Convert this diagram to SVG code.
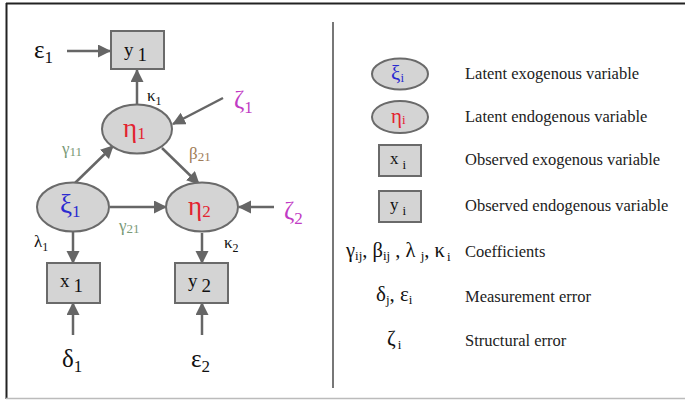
<svg xmlns="http://www.w3.org/2000/svg" width="685" height="400" viewBox="0 0 685 400">
<defs>
<marker id="ah" markerUnits="userSpaceOnUse" markerWidth="14" markerHeight="14" refX="12" refY="6.5" orient="auto">
<path d="M0,0 L13,6.5 L0,13 Z" fill="#666"/>
</marker>
<style>
.node-e{fill:#d4d4d4;stroke:#6a6a6a;stroke-width:2}
.node-r{fill:#d4d4d4;stroke:#6a6a6a;stroke-width:2}
.conn line{stroke:#666;stroke-width:2.5;marker-end:url(#ah)}
text{font-family:"Liberation Serif","Times New Roman",serif;fill:#111}
.big{font-size:25px}
.nb{font-size:27px}
.lab{font-size:17px}
.leg{font-size:16.5px;fill:#222}
.xi{fill:#2b2bd0}.eta{fill:#e32330}.zeta{fill:#c13bc4}.gam{fill:#7a9a78}.bet{fill:#a07c58}
</style>
</defs>
<rect x="0" y="0" width="685" height="400" fill="#fff"/>
<line x1="6" y1="3.5" x2="685" y2="3.5" stroke="#222" stroke-width="2"/>
<line x1="6.5" y1="3" x2="6.5" y2="399" stroke="#222" stroke-width="2"/>
<line x1="6" y1="398.5" x2="685" y2="398.5" stroke="#bbb" stroke-width="1.5"/>
<line x1="333" y1="22" x2="333" y2="388" stroke="#777" stroke-width="2"/>

<g id="connectors" class="conn">
<line x1="67" y1="51" x2="110" y2="51"/>
<line x1="137" y1="104" x2="137" y2="70"/>
<line x1="223" y1="98" x2="173" y2="124"/>
<line x1="75" y1="183" x2="113" y2="146"/>
<line x1="162" y1="148" x2="199" y2="184"/>
<line x1="110" y1="207" x2="166" y2="207"/>
<line x1="274" y1="207" x2="239" y2="207"/>
<line x1="73" y1="232" x2="73" y2="263"/>
<line x1="202" y1="233" x2="202" y2="263"/>
<line x1="73" y1="335" x2="73" y2="303"/>
<line x1="202" y1="335" x2="202" y2="303"/>
</g>

<g id="labels">
<text x="147" y="101" class="lab">κ<tspan font-size="12" dy="4">1</tspan></text>
<text x="62" y="154" class="lab gam">γ<tspan font-size="13" dy="2">11</tspan></text>
<text x="189" y="159" class="lab bet">β<tspan font-size="13" dy="2">21</tspan></text>
<text x="119" y="231" class="lab gam">γ<tspan font-size="13" dy="2">21</tspan></text>
<text x="34" y="247" class="lab">λ<tspan font-size="12" dy="4">1</tspan></text>
<text x="224" y="248" class="lab">κ<tspan font-size="12" dy="4">2</tspan></text>
</g>

<g id="eps1"><text x="34" y="58" class="big">ε<tspan font-size="17" dy="5">1</tspan></text></g>
<g id="zeta1"><text x="234" y="108" class="big zeta">ζ<tspan font-size="17" dy="5">1</tspan></text></g>
<g id="zeta2"><text x="284" y="219" class="big zeta">ζ<tspan font-size="17" dy="5">2</tspan></text></g>
<g id="delta1"><text x="62" y="367" class="big">δ<tspan font-size="17" dy="5">1</tspan></text></g>
<g id="eps2"><text x="191" y="367" class="big">ε<tspan font-size="17" dy="5">2</tspan></text></g>

<g id="y1"><rect x="111" y="31" width="53" height="38" class="node-r"/><text x="124" y="56" font-size="19">y<tspan dx="4" dy="5">1</tspan></text></g>
<g id="eta1"><ellipse cx="137" cy="129" rx="35" ry="24.5" class="node-e"/><text x="123" y="137" class="nb eta">η<tspan font-size="17" dy="2">1</tspan></text></g>
<g id="xi1"><ellipse cx="73" cy="207" rx="36" ry="24.5" class="node-e"/><text x="60" y="213" class="nb xi">ξ<tspan font-size="17" dy="4">1</tspan></text></g>
<g id="eta2"><ellipse cx="202" cy="207" rx="36" ry="24.5" class="node-e"/><text x="188" y="215" class="nb eta">η<tspan font-size="17" dy="2">2</tspan></text></g>
<g id="x1"><rect x="47" y="263" width="53" height="40" class="node-r"/><text x="60" y="287" font-size="19">x<tspan dx="4" dy="5">1</tspan></text></g>
<g id="y2"><rect x="175" y="263" width="53" height="40" class="node-r"/><text x="188" y="287" font-size="19">y<tspan dx="4" dy="5">2</tspan></text></g>

<g id="legend-xi"><ellipse cx="400" cy="74" rx="28" ry="15.5" class="node-e"/><text x="391" y="80" font-size="21" class="xi">ξ<tspan font-size="13" dy="2">i</tspan></text>
<text x="465" y="79" class="leg">Latent exogenous variable</text></g>
<g id="legend-eta"><ellipse cx="400" cy="117" rx="28" ry="16" class="node-e"/><text x="391" y="123" font-size="21" class="eta">η<tspan font-size="13" dy="1">i</tspan></text>
<text x="465" y="122" class="leg">Latent endogenous variable</text></g>
<g id="legend-x"><rect x="379" y="145" width="42" height="31" class="node-r"/><text x="390" y="164" font-size="17">x<tspan font-size="13" dx="4" dy="5">i</tspan></text>
<text x="465" y="165" class="leg">Observed exogenous variable</text></g>
<g id="legend-y"><rect x="379" y="191" width="42" height="31" class="node-r"/><text x="390" y="210" font-size="17">y<tspan font-size="13" dx="4" dy="5">i</tspan></text>
<text x="465" y="211" class="leg">Observed endogenous variable</text></g>
<g id="legend-coef"><text x="346" y="257" font-size="20.5">γ<tspan font-size="13" dy="3">ij</tspan><tspan dy="-3">, β</tspan><tspan font-size="13" dy="3">ij</tspan><tspan dy="-3"> , λ </tspan><tspan font-size="13" dy="3">j</tspan><tspan dy="-3">, κ</tspan><tspan font-size="13" dx="2" dy="4">i</tspan></text>
<text x="465" y="257" class="leg">Coefficients</text></g>
<g id="legend-meas"><text x="376" y="301" font-size="21">δ<tspan font-size="13" dy="3">j</tspan><tspan dy="-3">, ε</tspan><tspan font-size="13" dy="3">i</tspan></text>
<text x="465" y="302" class="leg">Measurement error</text></g>
<g id="legend-struct"><text x="387" y="345" font-size="21">ζ<tspan font-size="13" dx="2" dy="4">i</tspan></text>
<text x="465" y="346" class="leg">Structural error</text></g>
</svg>
